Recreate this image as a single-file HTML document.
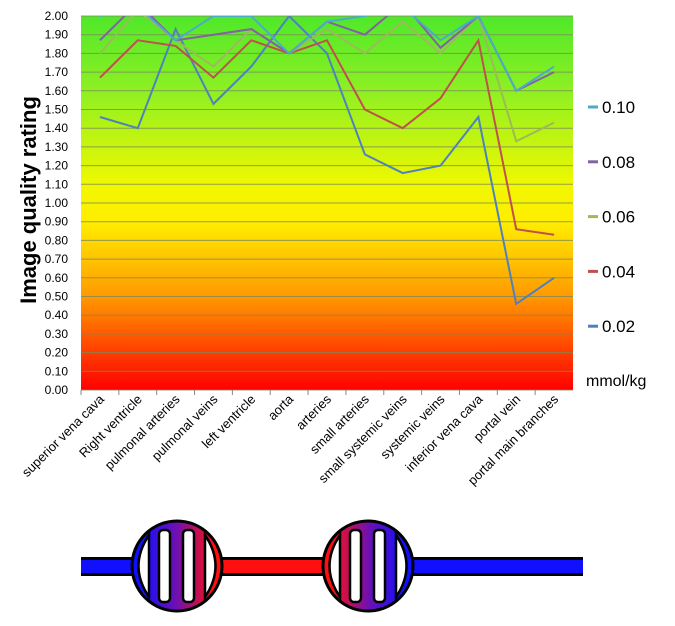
<!DOCTYPE html>
<html><head><meta charset="utf-8"><style>
body{margin:0;background:#fff;width:675px;height:626px;overflow:hidden}
svg{display:block;font-family:"Liberation Sans",sans-serif}
</style></head><body>
<svg id="c" width="675" height="626">
<defs>
<linearGradient id="bg" x1="0" y1="0" x2="0" y2="1">
<stop offset="0" stop-color="#4fe82a"/><stop offset="0.2" stop-color="#8ef022"/><stop offset="0.45" stop-color="#f0f800"/><stop offset="0.55" stop-color="#ffee00"/><stop offset="0.75" stop-color="#ff9900"/><stop offset="1" stop-color="#ff0000"/>
</linearGradient>
<linearGradient id="g1" x1="0" x2="1"><stop offset="0.1" stop-color="#1010ff"/><stop offset="0.5" stop-color="#7010b0"/><stop offset="0.9" stop-color="#ff1010"/></linearGradient>
<linearGradient id="g2" x1="0" x2="1"><stop offset="0.1" stop-color="#ff1010"/><stop offset="0.5" stop-color="#7010b0"/><stop offset="0.9" stop-color="#1010ff"/></linearGradient>
<clipPath id="pc"><rect x="81" y="16" width="492" height="374"/></clipPath>
</defs>
<rect x="81" y="16" width="492" height="374" fill="url(#bg)"/>
<g id="grid"></g><g id="ylab"></g><g id="xlab"></g><g id="lines" clip-path="url(#pc)"></g><g id="leg"></g>
<text x="0" y="0" transform="translate(36,200) rotate(-90)" text-anchor="middle" font-size="22" font-weight="bold">Image quality rating</text>
<text x="586" y="386" font-size="16">mmol/kg</text>
<g>
<rect x="81" y="557" width="502" height="19" fill="#000"/>
<rect x="81" y="560" width="502" height="13" fill="#1010ff"/>
<rect x="215" y="560" width="120" height="13" fill="#ff1010"/>
<g fill="#fff" stroke="#000" stroke-width="2.5">
<circle cx="177" cy="566" r="45" fill="url(#g1)" stroke-width="3"/>
<path d="M149,535 Q128,566 149,597 Z"/>
<path d="M205,535 Q226,566 205,597 Z"/>
<rect x="159" y="530" width="11" height="72" rx="4"/>
<rect x="183" y="530" width="11" height="72" rx="4"/>
<circle cx="368" cy="566" r="45" fill="url(#g2)" stroke-width="3"/>
<path d="M340,535 Q319,566 340,597 Z"/>
<path d="M396,535 Q417,566 396,597 Z"/>
<rect x="350" y="530" width="11" height="72" rx="4"/>
<rect x="374" y="530" width="11" height="72" rx="4"/>
</g>
</g>
</svg>
<script>
const categories=["superior vena cava","Right ventricle","pulmonal arteries","pulmonal veins","left ventricle","aorta","arteries","small arteries","small systemic veins","systemic veins","inferior vena cava","portal vein","portal main branches"];
const seriesNames=["0.10","0.08","0.06","0.04","0.02"];
const s010=[2.0,2.05,1.87,2.0,2.0,1.80,1.97,2.0,2.05,1.87,2.0,1.60,1.73];
const s008=[1.87,2.07,1.87,1.90,1.93,1.80,1.97,1.90,2.07,1.83,2.0,1.60,1.70];
const s006=[1.80,2.03,1.87,1.73,1.93,1.80,1.93,1.80,1.97,1.80,2.0,1.33,1.43];
const s004=[1.67,1.87,1.84,1.67,1.87,1.80,1.87,1.50,1.40,1.56,1.87,0.86,0.83];
const s002=[1.46,1.40,1.93,1.53,1.73,2.0,1.80,1.26,1.16,1.20,1.46,0.46,0.60];
const yTicks=[0,0.1,0.2,0.3,0.4,0.5,0.6,0.7,0.8,0.9,1.0,1.1,1.2,1.3,1.4,1.5,1.6,1.7,1.8,1.9,2.0];
const colors=["#4bacc6","#8064a2","#9bbb59","#c0504d","#4f81bd"];
const NS="http://www.w3.org/2000/svg";
const X0=81,X1=573,Y0=390,Y1=16;
const bw=(X1-X0)/categories.length;
const x=i=>X0+bw*(i+0.5);
const y=v=>Y0-(v/2)*(Y0-Y1);
function mk(t,a,p){const e=document.createElementNS(NS,t);for(const k in a)e.setAttribute(k,a[k]);document.getElementById(p).appendChild(e);return e;}
yTicks.forEach(v=>{
  const l=mk("line",{x1:X0,x2:X1,y1:y(v),y2:y(v),stroke:"#7a8a5a","stroke-width":1,"stroke-opacity":0.8},"grid");
  
  
  const t=mk("text",{x:68,y:y(v)+4,"text-anchor":"end","font-size":12},"ylab");
  t.textContent=v.toFixed(2);
  
  
});
categories.forEach((c,i)=>{
  const tk=mk("line",{x1:X0+bw*i,x2:X0+bw*i,y1:Y0,y2:Y0+5,stroke:"#888"},"grid");
  
  
  const t=mk("text",{transform:`translate(${x(i)+5},${Y0+10}) rotate(-45)`,"text-anchor":"end","font-size":13},"xlab");
  t.textContent=c;
  
  
});
const all=[s010,s008,s006,s004,s002];
[4,3,2,1,0].forEach(k=>{
  const p=mk("polyline",{points:all[k].map((v,i)=>x(i)+","+y(v)).join(" "),fill:"none",stroke:colors[k],"stroke-width":2},"lines");
  
  
});
seriesNames.forEach((n,k)=>{
  const yy=107+k*54.8;
  const l=mk("line",{x1:588,x2:598,y1:yy,y2:yy,stroke:colors[k],"stroke-width":3},"leg");
  
  
  const t=mk("text",{x:602,y:yy+6,"font-size":17},"leg");
  t.textContent=n;
  
  
});
</script>
</body></html>
